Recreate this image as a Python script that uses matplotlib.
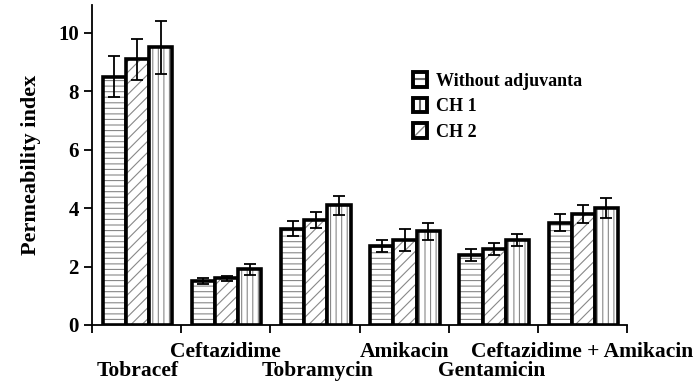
import numpy as np
import matplotlib.pyplot as plt
from matplotlib.patches import Patch, Rectangle
from matplotlib.lines import Line2D
from matplotlib.legend_handler import HandlerBase

plt.rcParams['font.family'] = 'Liberation Serif'
plt.rcParams['font.weight'] = 'bold'
plt.rcParams['hatch.linewidth'] = 0.8

categories = ['Tobracef', 'Ceftazidime', 'Tobramycin', 'Amikacin',
              'Gentamicin', 'Ceftazidime + Amikacin']
without = [8.5, 1.5, 3.3, 2.7, 2.4, 3.5]
without_err = [0.7, 0.1, 0.25, 0.2, 0.2, 0.3]
ch2 = [9.1, 1.6, 3.6, 2.9, 2.6, 3.8]
ch2_err = [0.7, 0.08, 0.28, 0.37, 0.2, 0.3]
ch1 = [9.5, 1.9, 4.1, 3.2, 2.9, 4.0]
ch1_err = [0.9, 0.18, 0.33, 0.28, 0.2, 0.35]

series = [(without, without_err, '---'), (ch2, ch2_err, '///'), (ch1, ch1_err, '|||')]


class BoxHandler(HandlerBase):
    # square legend key with a single hatch line inside
    def __init__(self, kind):
        super().__init__()
        self.kind = kind

    def create_artists(self, legend, orig_handle, xdescent, ydescent,
                       width, height, fontsize, trans):
        s = min(width, height)
        x0, y0 = -xdescent, -ydescent
        if self.kind == '-':
            ln = Line2D([x0, x0 + s], [y0 + s / 2, y0 + s / 2], color='#666666', lw=1.5)
        elif self.kind == '|':
            ln = Line2D([x0 + s / 2, x0 + s / 2], [y0, y0 + s], color='#666666', lw=1.5)
        else:
            ln = Line2D([x0, x0 + s], [y0, y0 + s], color='#888888', lw=1.0)
        box = Rectangle((x0, y0), s, s, facecolor='none', edgecolor='black', lw=2.8)
        ln.set_transform(trans)
        box.set_transform(trans)
        return [ln, box]


fig = plt.figure(figsize=(7, 3.84), dpi=100)
ax = fig.add_axes([92 / 700, (384 - 325) / 384, (627 - 92) / 700, 320 / 384])

x = np.arange(len(categories))
w = 0.26
for i, (vals, errs, hatch) in enumerate(series):
    pos = x + 0.12 + w * i + w / 2
    # hatch in grey, then black outline on top
    ax.bar(pos, vals, w, color='white', edgecolor='#888888', hatch=hatch, linewidth=0)
    ax.bar(pos, vals, w, color='none', edgecolor='black', linewidth=2.6)
    ax.errorbar(pos, vals, yerr=errs, fmt='none', ecolor='black',
                elinewidth=1.3, capsize=4, capthick=1.3)

ax.set_xlim(0, 6)
ax.set_ylim(0, 10.95)
ax.set_yticks([0, 2, 4, 6, 8, 10])
ax.set_xticks(np.arange(7))
ax.set_xticklabels([])
ax.tick_params(axis='y', labelsize=15, width=1.3, length=6, direction='out')
ax.tick_params(axis='x', width=1.3, length=6, direction='out')
for s in ['top', 'right']:
    ax.spines[s].set_visible(False)
for s in ['left', 'bottom']:
    ax.spines[s].set_linewidth(1.3)
ax.set_ylabel('Permeability index', fontsize=16, fontweight='bold', labelpad=12)

# staggered category labels
label_x = [0.51, 1.5, 2.53, 3.51, 4.48, 5.5]
for i, (lab, lx) in enumerate(zip(categories, label_x)):
    yoff = -0.085 if i % 2 == 1 else -0.145
    ax.text(lx / 6, yoff, lab, transform=ax.transAxes, ha='center', va='center',
            fontsize=15.5, fontweight='bold')

h1, h2, h3 = Patch(), Patch(), Patch()
ax.legend([h1, h2, h3], ['Without adjuvanta', 'CH 1', 'CH 2'], loc='upper left',
          bbox_to_anchor=(0.6, 0.79), frameon=False, fontsize=13,
          handlelength=0.85, handleheight=0.85, handletextpad=0.45, labelspacing=0.45,
          borderaxespad=0, borderpad=0,
          handler_map={h1: BoxHandler('-'), h2: BoxHandler('|'), h3: BoxHandler('/')})

plt.savefig('out.png', dpi=100)
